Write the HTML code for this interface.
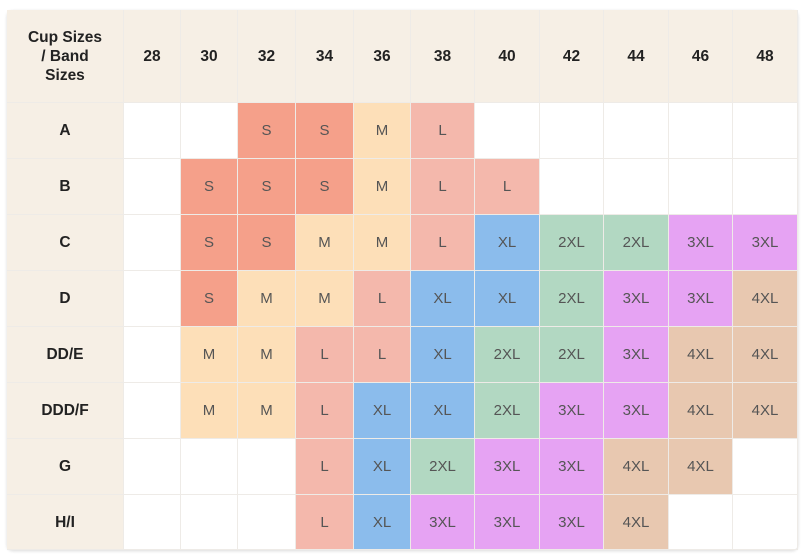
<!DOCTYPE html>
<html><head><style>
body{margin:0;width:802px;height:556px;background:#fff;position:relative;overflow:hidden;font-family:"Liberation Sans",sans-serif}
.c{position:absolute;display:flex;align-items:center;justify-content:center;box-sizing:border-box;border-right:1px solid #eeebe7;border-bottom:1px solid #eeebe7;font-size:15px;color:#555}
.h{background:#f6efe5;font-weight:bold;color:#222;font-size:15.5px;text-align:center;line-height:19px}
.S{background:#f5a08a}.M{background:#fddfb8}.L{background:#f4b8ac}.XL{background:#8bbcec}.X2{background:#b2d8c2}.X3{background:#e6a3f3}.X4{background:#e8c8b0}
#frame{position:absolute;left:7px;top:10px;width:791px;height:540px;border-radius:6px;box-shadow:0 1px 3px rgba(0,0,0,.15)}
</style></head><body>
<div id="frame"></div>
<div id="g"></div>
<script>
const xs=[7,124,181,238,296,354,411,475,540,604,669,733,798];
const ys=[10,103,159,215,271,327,383,439,495,550];
const head=["Cup Sizes<br>/ Band<br>Sizes","28","30","32","34","36","38","40","42","44","46","48"];
const rows=[
["A","","","S","S","M","L","","","","",""],
["B","","S","S","S","M","L","L","","","",""],
["C","","S","S","M","M","L","XL","2XL","2XL","3XL","3XL"],
["D","","S","M","M","L","XL","XL","2XL","3XL","3XL","4XL"],
["DD/E","","M","M","L","L","XL","2XL","2XL","3XL","4XL","4XL"],
["DDD/F","","M","M","L","XL","XL","2XL","3XL","3XL","4XL","4XL"],
["G","","","","L","XL","2XL","3XL","3XL","4XL","4XL",""],
["H/I","","","","L","XL","3XL","3XL","3XL","4XL","",""]];
const cls={"S":"S","M":"M","L":"L","XL":"XL","2XL":"X2","3XL":"X3","4XL":"X4"};
let h="";
function cell(i,j,t,c){h+=`<div class="c ${c}" style="left:${xs[i]}px;top:${ys[j]}px;width:${xs[i+1]-xs[i]}px;height:${ys[j+1]-ys[j]}px">${t}</div>`;}
head.forEach((t,i)=>cell(i,0,t,"h"));
rows.forEach((r,j)=>r.forEach((t,i)=>cell(i,j+1,t,i==0?"h":(cls[t]||""))));
document.getElementById("g").innerHTML=h;
</script>
</body></html>
